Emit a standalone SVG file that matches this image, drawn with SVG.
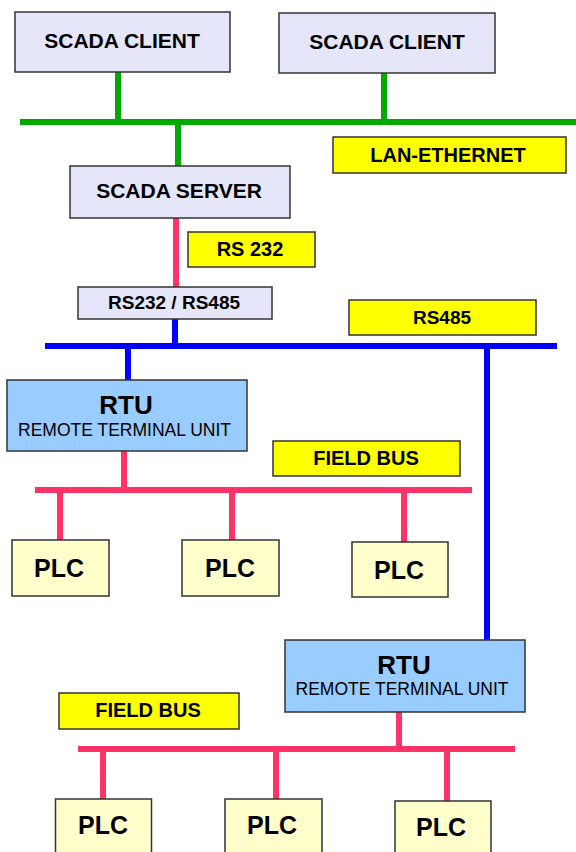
<svg xmlns="http://www.w3.org/2000/svg" width="576" height="852" viewBox="0 0 576 852">
<style>
.box{stroke:#333;stroke-width:1.5}
.scada{fill:#E6E6FA}
.lbl{fill:#FFFF00}
.rtu{fill:#99CCFF}
.plc{fill:#FFFFCC}
text{font-family:"Liberation Sans",Arial,sans-serif;fill:#000;text-anchor:middle}
.b{font-weight:bold}
.g{stroke:#00AA00;stroke-width:6;fill:none}
.bl{stroke:#0000FF;stroke-width:6;fill:none}
.p{stroke:#FF3366;stroke-width:6;fill:none}
</style>
<rect width="576" height="852" fill="#fff"/>
<g id="connectors">
<path class="g" d="M20 122H576M118 72V122M384 73V122M178 122V166"/>
<path class="p" d="M176 218V287"/>
<path class="bl" d="M175 319V346M45 346H557M128 346V380M487 346V640"/>
<path class="p" d="M124 451V490M35 490H472M60 490V540M232 490V540M404 490V542"/>
<path class="p" d="M399 712V749M78 749H515M103 749V799M276 749V799M447 749V801"/>
</g>
<g id="client1"><rect class="box scada" x="15" y="12" width="215" height="60"/><text class="b" x="122" y="48" font-size="21">SCADA CLIENT</text></g>
<g id="client2"><rect class="box scada" x="279" y="13" width="216" height="60"/><text class="b" x="387" y="49" font-size="21">SCADA CLIENT</text></g>
<g id="lan"><rect class="box lbl" x="333" y="137" width="233" height="36"/><text class="b" x="448" y="162" font-size="20">LAN-ETHERNET</text></g>
<g id="server"><rect class="box scada" x="70" y="166" width="220" height="52"/><text class="b" x="179" y="198" font-size="21">SCADA SERVER</text></g>
<g id="rs232"><rect class="box lbl" x="188" y="232" width="127" height="35"/><text class="b" x="250" y="256" font-size="20">RS 232</text></g>
<g id="converter"><rect class="box scada" x="78" y="287" width="194" height="32"/><text class="b" x="174" y="309" font-size="19">RS232 / RS485</text></g>
<g id="rs485"><rect class="box lbl" x="349" y="300" width="187" height="35"/><text class="b" x="442" y="324" font-size="19">RS485</text></g>
<g id="rtu1"><rect class="box rtu" x="7" y="380" width="240" height="71"/><text class="b" x="126" y="414" font-size="26">RTU</text><text x="124.5" y="435.5" font-size="17.5">REMOTE TERMINAL UNIT</text></g>
<g id="fieldbus1"><rect class="box lbl" x="273" y="441" width="187" height="35"/><text class="b" x="366" y="465" font-size="20">FIELD BUS</text></g>
<g id="plc1"><rect class="box plc" x="12" y="540" width="97" height="56"/><text class="b" x="59" y="577" font-size="25">PLC</text></g>
<g id="plc2"><rect class="box plc" x="182" y="540" width="97" height="56"/><text class="b" x="230" y="577" font-size="25">PLC</text></g>
<g id="plc3"><rect class="box plc" x="352" y="542" width="96" height="55"/><text class="b" x="399" y="578.5" font-size="25">PLC</text></g>
<g id="rtu2"><rect class="box rtu" x="285" y="640" width="240" height="72"/><text class="b" x="404" y="673.5" font-size="26">RTU</text><text x="402" y="695" font-size="17.5">REMOTE TERMINAL UNIT</text></g>
<g id="fieldbus2"><rect class="box lbl" x="59" y="693" width="180" height="36"/><text class="b" x="148" y="717" font-size="20">FIELD BUS</text></g>
<g id="plc4"><rect class="box plc" x="55.5" y="799" width="96" height="60"/><text class="b" x="103" y="834" font-size="25">PLC</text></g>
<g id="plc5"><rect class="box plc" x="225" y="799" width="97" height="60"/><text class="b" x="272" y="834" font-size="25">PLC</text></g>
<g id="plc6"><rect class="box plc" x="395" y="801" width="96" height="60"/><text class="b" x="441" y="836" font-size="25">PLC</text></g>
</svg>
